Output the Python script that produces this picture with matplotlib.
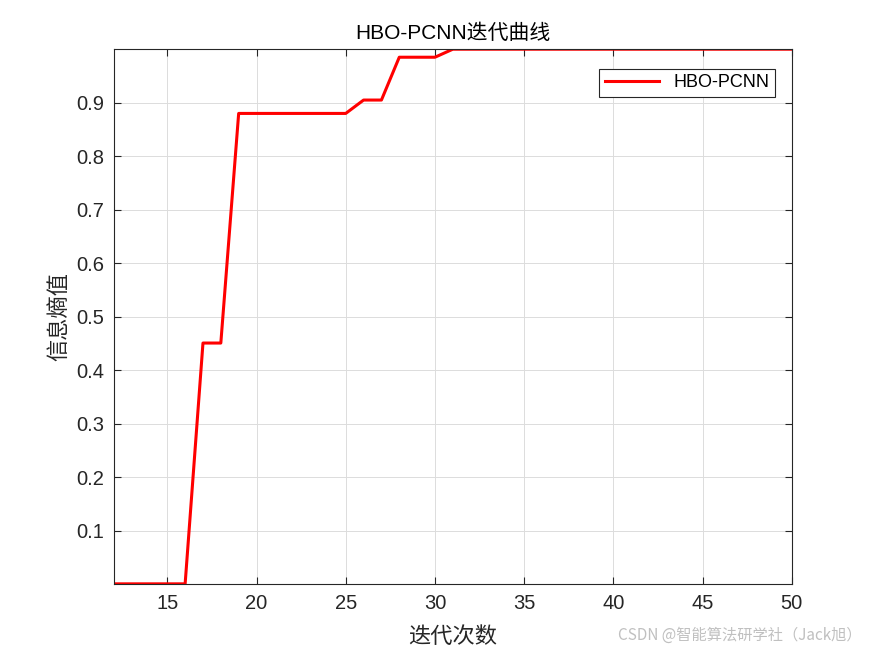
import matplotlib
matplotlib.use("Agg")
import matplotlib.pyplot as plt

iterations = list(range(12, 51))
entropy = [0.0011]*5 + [0.451, 0.451] + [0.880]*7 + [0.905, 0.905] + [0.985]*3 + [1.0]*20
xticks = [15, 20, 25, 30, 35, 40, 45, 50]
yticks = [0.1, 0.2, 0.3, 0.4, 0.5, 0.6, 0.7, 0.8, 0.9]

plt.rcParams['font.family'] = ['Liberation Sans', 'Noto Sans CJK SC']
fig = plt.figure(figsize=(8.75, 6.56), dpi=100)
ax = fig.add_axes([0.13, 0.11, 0.775, 0.815])
ax.plot(iterations, entropy, color='#ff0000', lw=2.2, label='HBO-PCNN')
ax.set_xlim(12, 50)
ax.set_ylim(min(entropy), max(entropy))
ax.set_xticks(xticks)
ax.set_yticks(yticks)
ax.set_yticklabels([f"{v:.1f}" for v in yticks])
ax.grid(True, color='#dcdcdc', lw=0.7)
ax.set_axisbelow(True)
ax.tick_params(direction='in', top=True, right=True, labelsize=14.5, colors='#262626', length=5, width=0.8)
ax.tick_params(axis='x', pad=7)
ax.tick_params(axis='y', pad=7)
for s in ax.spines.values():
    s.set_color('#262626')
    s.set_linewidth(0.8)
ax.set_title('HBO-PCNN迭代曲线', fontsize=15, color='black', pad=7)
ax.set_xlabel('迭代次数', fontsize=16, family=['Noto Sans CJK SC'], color='#262626', labelpad=9)
ax.set_ylabel('信息熵值', fontsize=16, family=['Noto Sans CJK SC'], color='#262626', labelpad=4)
leg = ax.legend(loc='upper right', bbox_to_anchor=(0.975, 0.963), borderaxespad=0, fontsize=13,
                fancybox=False, framealpha=1, edgecolor='#262626', handlelength=3, borderpad=0.3)
leg.get_frame().set_linewidth(0.8)
fig.text(0.985, 0.018, 'CSDN @智能算法研学社（Jack旭）', ha='right', va='bottom', fontsize=11,
         color='#c0c0c0', family=['Noto Sans CJK SC', 'DejaVu Sans'])
fig.savefig('out.png', dpi=100, facecolor='white')
